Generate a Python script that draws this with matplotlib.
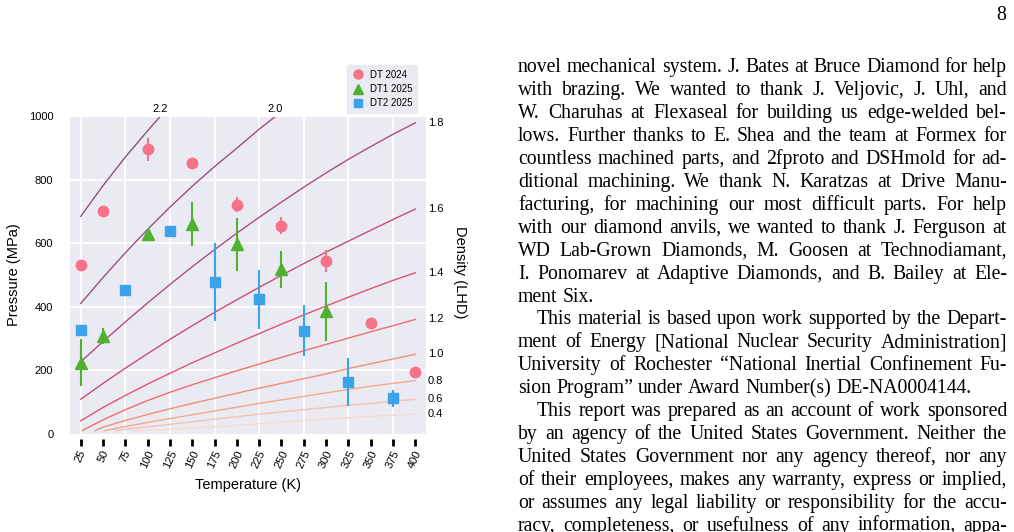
import numpy as np
import matplotlib.pyplot as plt
from matplotlib.lines import Line2D
from matplotlib.font_manager import FontProperties

plt.rcParams['font.family'] = ['Liberation Sans', 'DejaVu Sans']

# --- measured points ---
dt2024_T = [25, 50, 100, 150, 200, 250, 300, 350, 400]
dt2024_P = [531, 702, 896, 853, 722, 656, 545, 349, 193]
dt2024_err = [0, 0, 37, 0, 23, 28, 34, 0, 0]

dt1_T = [25, 50, 100, 150, 200, 250, 300]
dt1_P = [223, 307, 630, 660, 597, 518, 386]
dt1_err = [74, 26, 0, 69, 84, 59, 93]

dt2_T = [25, 75, 125, 175, 225, 275, 325, 375]
dt2_P = [328, 454, 638, 478, 424, 324, 163, 111]
dt2_err = [0, 0, 0, 124, 93, 80, 76, 26]

# --- isochores (density in LHD) ---
iso_rho = [2.2, 2.0, 1.8, 1.6, 1.4, 1.2, 1.0, 0.8, 0.6, 0.4]
iso_T = [
    [25, 50, 75, 100, 125],
    [25, 50, 75, 100, 125, 150, 175, 200, 225, 250],
    [25, 50, 75, 100, 125, 150, 175, 200, 225, 250, 275, 300, 325, 350, 375, 400],
    [25, 50, 75, 100, 125, 150, 175, 200, 225, 250, 275, 300, 325, 350, 375, 400],
    [25, 50, 75, 100, 125, 150, 175, 200, 225, 250, 275, 300, 325, 350, 375, 400],
    [27, 50, 75, 100, 125, 150, 175, 200, 225, 250, 275, 300, 325, 350, 375, 400],
    [41, 50, 75, 100, 125, 150, 175, 200, 225, 250, 275, 300, 325, 350, 375, 400],
    [52, 75, 100, 125, 150, 175, 200, 225, 250, 275, 300, 325, 350, 375, 400],
    [64, 75, 100, 125, 150, 175, 200, 225, 250, 275, 300, 325, 350, 375, 400],
    [85, 100, 125, 150, 175, 200, 225, 250, 275, 300, 325, 350, 375, 400],
]
iso_P = [
    [685, 782, 872, 955, 1035],
    [410, 492, 570, 644, 714, 780, 842, 900, 960, 1015],
    [226, 290, 352, 412, 470, 526, 580, 632, 682, 730, 777, 822, 865, 905, 944, 980],
    [108, 158, 206, 252, 297, 340, 382, 422, 461, 499, 536, 572, 607, 641, 675, 708],
    [40, 82, 120, 156, 190, 223, 254, 285, 315, 345, 374, 402, 430, 457, 483, 507],
    [10, 43, 75, 104, 130, 154, 176, 198, 219, 240, 261, 281, 301, 321, 340, 360],
    [9, 20, 41, 60, 78, 95, 111, 127, 143, 158, 173, 188, 205, 220, 235, 250],
    [9, 22, 35, 47, 59, 71, 83, 95, 106, 117, 128, 139, 149, 158, 167],
    [9, 13, 21, 29, 37, 45, 53, 61, 68, 75, 82, 89, 95, 102, 108],
    [8, 10, 13, 17, 21, 26, 31, 36, 41, 46, 50, 54, 58, 61],
]
iso_colors = ['#8a5282', '#9c4e84', '#b04c84', '#cc4a7c', '#e05570',
              '#ec6f6a', '#f28f78', '#f4a88e', '#f6c3ab', '#f6dccd']

T_ticks = list(range(25, 401, 25))
T_grid = list(range(25, 376, 50))
P_ticks = [0, 200, 400, 600, 800, 1000]

c_dt2024 = '#f77189'
c_dt1 = '#50b131'
c_dt2 = '#3ba3ec'

W, H = 1014, 532
fig = plt.figure(figsize=(W / 100, H / 100), dpi=100)
ax = fig.add_axes([70 / W, 1 - 433.5 / H, 356 / W, 317 / H])
ax.set_facecolor('#eaeaf2')
for s in ax.spines.values():
    s.set_visible(False)
ax.spines['bottom'].set_position(('outward', 4))
ax.set_xlim(13, 412)
ax.set_ylim(0, 1000)

for t in T_grid:
    ax.axvline(t, color='white', lw=1.3, zorder=0.5)
for p in P_ticks[1:-1]:
    ax.axhline(p, color='white', lw=1.3, zorder=0.5)

for rho, T, P, c in zip(iso_rho, iso_T, iso_P, iso_colors):
    ax.plot(T, P, color=c, lw=1.0, zorder=1)
    if max(P) > 1000:
        tx = np.interp(1000, P, T)
        ax.annotate(f'{rho:.1f}', xy=(tx, 1000), xytext=(0, 2),
                    textcoords='offset points', ha='center', va='bottom',
                    fontsize=8, annotation_clip=False)
    else:
        ax.annotate(f'{rho:.1f}', xy=(T[-1], P[-1]), xytext=(9, 0),
                    textcoords='offset points', ha='left', va='center',
                    fontsize=8, annotation_clip=False)

ax.errorbar(dt2024_T, dt2024_P, yerr=dt2024_err, fmt='o', color=c_dt2024,
            ms=7.5, elinewidth=1.5, capsize=0, zorder=3)
ax.errorbar(dt1_T, dt1_P, yerr=dt1_err, fmt='^', color=c_dt1,
            ms=9, elinewidth=1.5, capsize=0, zorder=3)
ax.errorbar(dt2_T, dt2_P, yerr=dt2_err, fmt='s', color=c_dt2,
            ms=7, elinewidth=1.5, capsize=0, zorder=3)

ax.set_xticks(T_ticks)
ax.set_yticks(P_ticks)
ax.tick_params(axis='x', direction='out', length=5, width=2, color='black',
               pad=2, labelsize=8, labelrotation=65)
ax.tick_params(axis='y', length=0, pad=12, labelsize=8)
ax.set_xlabel('Temperature (K)', fontsize=10.5)
ax.xaxis.set_label_coords(0.5, -0.14)
ax.set_ylabel('Pressure (MPa)', fontsize=10.5)
ax.yaxis.set_label_coords(-0.138, 0.5)
fig.text(460 / W, 1 - 272 / H, 'Density (LHD)', rotation=-90,
         ha='center', va='center', fontsize=10.5)

handles = [
    Line2D([], [], ls='none', marker='o', color=c_dt2024, ms=6.5),
    Line2D([], [], ls='none', marker='^', color=c_dt1, ms=7.5),
    Line2D([], [], ls='none', marker='s', color=c_dt2, ms=6),
]
ax.legend(handles, ['DT 2024', 'DT1 2025', 'DT2 2025'], loc='upper right',
          bbox_to_anchor=(422 / W, 1 - 60 / H), bbox_transform=fig.transFigure,
          fontsize=7, frameon=True, facecolor='#eaeaf2', edgecolor='#eaeaf2',
          framealpha=1, handlelength=1.2, handletextpad=0.6,
          labelspacing=0.45, borderpad=0.5)

# --- right column text ---
body = [
    "novel mechanical system. J. Bates at Bruce Diamond for help",
    "with brazing.  We wanted to thank J. Veljovic, J. Uhl, and",
    "W. Charuhas at Flexaseal for building us edge-welded bel-",
    "lows.  Further thanks to E. Shea and the team at Formex for",
    "countless machined parts, and 2fproto and DSHmold for ad-",
    "ditional machining.  We thank N. Karatzas at Drive Manu-",
    "facturing, for machining our most difficult parts.  For help",
    "with our diamond anvils, we wanted to thank J. Ferguson at",
    "WD Lab-Grown Diamonds, M. Goosen at Technodiamant,",
    "I. Ponomarev at Adaptive Diamonds, and B. Bailey at Ele-",
    "ment Six.",
    "This material is based upon work supported by the Depart-",
    "ment of Energy [National Nuclear Security Administration]",
    "University of Rochester \u201cNational Inertial Confinement Fu-",
    "sion Program\u201d under Award Number(s) DE-NA0004144.",
    "This report was prepared as an account of work sponsored",
    "by an agency of the United States Government.  Neither the",
    "United States Government nor any agency thereof, nor any",
    "of their employees, makes any warranty, express or implied,",
    "or assumes any legal liability or responsibility for the accu-",
    "racy, completeness, or usefulness of any information, appa-",
]
indented = [11, 15]
ragged = [10, 14]

prop = FontProperties(family='Liberation Serif', size=14.2)
fig.canvas.draw()
r = fig.canvas.get_renderer()


def wid(s):
    return r.get_text_width_height_descent(s, prop, ismath=False)[0]


space = wid('a a') - wid('aa')
x_left, x_right = 518, 1007
for i, line in enumerate(body):
    y = 72 + 22.95 * i
    words = line.split()
    x0 = x_left + (19 if i in indented else 0)
    ws = [wid(w) for w in words]
    if i in ragged or len(words) < 2:
        gap = space
    else:
        gap = (x_right - x0 - sum(ws)) / (len(words) - 1)
    x = x0
    for w, ww in zip(words, ws):
        fig.text(x / W, 1 - y / H, w, fontproperties=prop,
                 ha='left', va='baseline')
        x += ww + gap

fig.text(1006 / W, 1 - 20 / H, '8', fontproperties=prop,
         ha='right', va='baseline')

fig.savefig('out.png', dpi=100)
